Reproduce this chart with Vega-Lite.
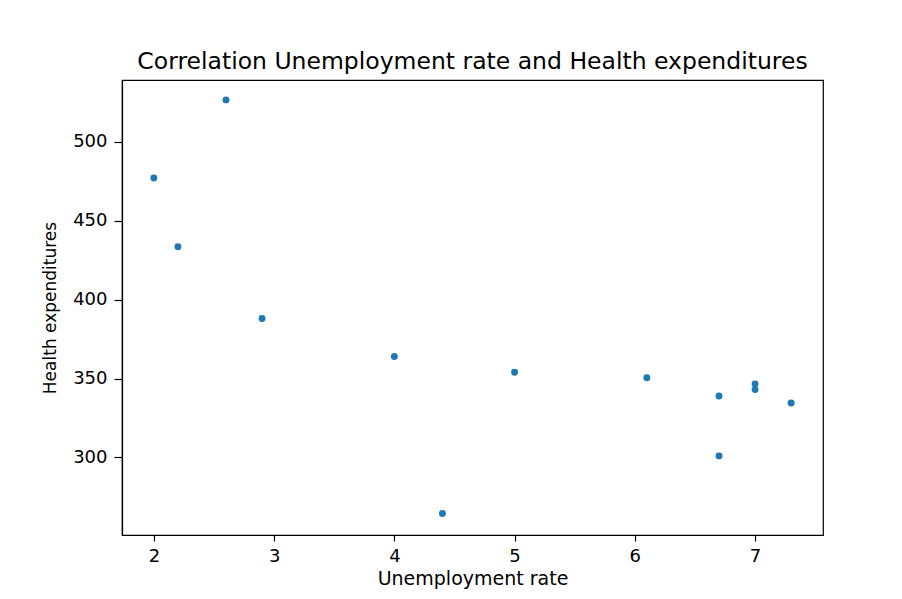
{
  "$schema": "https://vega.github.io/schema/vega-lite/v6.json",
  "autosize": {"type": "none"},
  "width": 701,
  "height": 455,
  "padding": {"left": 122, "top": 80, "right": 79, "bottom": 64},
  "background": "white",
  "title": {
    "text": "Correlation Unemployment rate and Health expenditures",
    "font": "DejaVu Sans",
    "fontSize": 23.5,
    "fontWeight": "normal",
    "color": "#000000",
    "anchor": "middle",
    "baseline": "alphabetic",
    "offset": 10,
    "dy": 22
  },
  "data": {
    "values": [
      {"unemployment": 2.0, "health": 477},
      {"unemployment": 2.2, "health": 433.5},
      {"unemployment": 2.6, "health": 526.5},
      {"unemployment": 2.9, "health": 388},
      {"unemployment": 4.0, "health": 364},
      {"unemployment": 4.4, "health": 264.5},
      {"unemployment": 5.0, "health": 354},
      {"unemployment": 6.1, "health": 350.5},
      {"unemployment": 6.7, "health": 339},
      {"unemployment": 6.7, "health": 301},
      {"unemployment": 7.0, "health": 346.5},
      {"unemployment": 7.0, "health": 343},
      {"unemployment": 7.3, "health": 334.5}
    ]
  },
  "mark": {"type": "point", "filled": true, "shape": "circle", "size": 48, "color": "#1f77b4", "opacity": 1},
  "encoding": {
    "x": {
      "field": "unemployment",
      "type": "quantitative",
      "title": "Unemployment rate",
      "scale": {"domain": [1.735, 7.565], "nice": false, "zero": false},
      "axis": {"values": [2, 3, 4, 5, 6, 7], "tickSize": 6, "labelPadding": 6, "titlePadding": 4}
    },
    "y": {
      "field": "health",
      "type": "quantitative",
      "title": "Health expenditures",
      "scale": {"domain": [250.9, 539.1], "nice": false, "zero": false},
      "axis": {"values": [300, 350, 400, 450, 500], "tickSize": 8, "labelPadding": 7, "titlePadding": 13, "titleFontSize": 17}
    }
  },
  "config": {
    "view": {"stroke": "#000000", "strokeWidth": 1.2},
    "axis": {
      "grid": false,
      "domainColor": "#000000",
      "domainWidth": 1.2,
      "tickColor": "#000000",
      "tickWidth": 1.2,
      "labelFont": "DejaVu Sans",
      "labelFontSize": 18,
      "labelColor": "#000000",
      "titleFont": "DejaVu Sans",
      "titleFontSize": 19,
      "titleFontWeight": "normal",
      "titleColor": "#000000"
    }
  }
}
